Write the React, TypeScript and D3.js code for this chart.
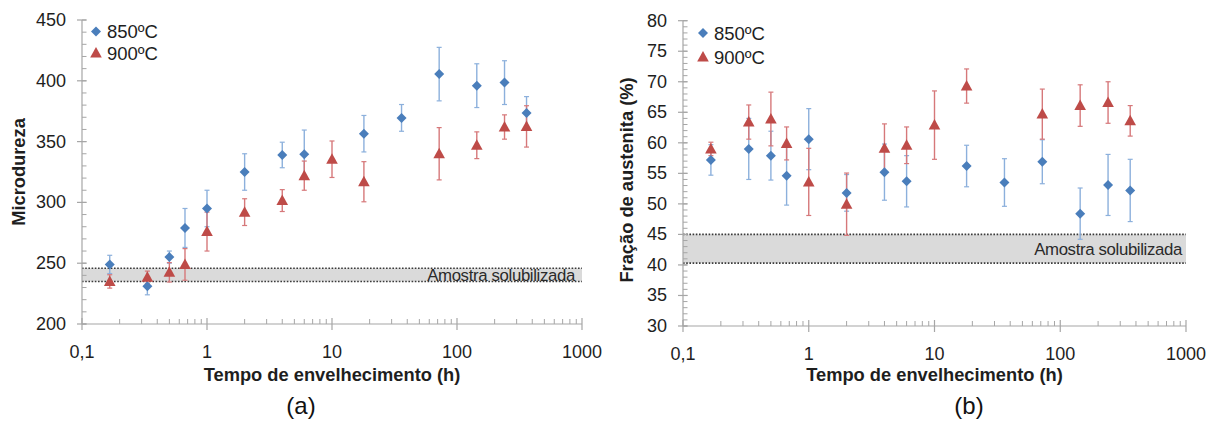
import React from "react";
import * as d3 from "d3";

// ---------- data ----------
const xTickLabels = ["0,1", "1", "10", "100", "1000"];
const xTickValues = [0.1, 1, 10, 100, 1000];

// Panel (a) Microdureza
const timesA850 = [1 / 6, 1 / 3, 0.5, 2 / 3, 1, 2, 4, 6, 18, 36, 72, 144, 240, 360];
const hard850 = [249, 231, 255, 279, 295, 325, 339, 339.5, 356.5, 369.5, 405.5, 396, 398.5, 373.5];
const hard850Err = [7.5, 7, 5, 16, 15, 15, 10.5, 20, 15, 11, 22, 18, 18, 13.5];
const timesA900 = [1 / 6, 1 / 3, 0.5, 2 / 3, 1, 2, 4, 6, 10, 18, 72, 144, 240, 360];
const hard900 = [235, 238.5, 242.5, 249, 276, 292, 301.5, 322, 335.5, 317, 340, 347, 362, 362.5];
const hard900Err = [5.5, 5, 8, 13, 16, 11, 9, 12, 15, 16.5, 21.5, 11, 10, 17];
const bandA = [235, 245.8];
const yTicksA = [200, 250, 300, 350, 400, 450];

// Panel (b) Fração de austenita
const timesB850 = [1 / 6, 1 / 3, 0.5, 2 / 3, 1, 2, 4, 6, 18, 36, 72, 144, 240, 360];
const aust850 = [57.2, 59, 57.9, 54.6, 60.6, 51.8, 55.2, 53.7, 56.2, 53.5, 56.9, 48.4, 53.1, 52.2];
const aust850Err = [2.5, 5, 4, 4.8, 5, 3, 4.6, 4.2, 3.4, 3.9, 3.6, 4.2, 5, 5.1];
const timesB900 = [1 / 6, 1 / 3, 0.5, 2 / 3, 1, 2, 4, 6, 10, 18, 72, 144, 240, 360];
const aust900 = [59, 63.4, 63.9, 59.9, 53.6, 49.95, 59.1, 59.6, 62.9, 69.3, 64.7, 66.1, 66.6, 63.6];
const aust900Err = [1.1, 2.8, 4.4, 2.7, 5.5, 5.1, 4, 3, 5.6, 2.8, 4.1, 3.4, 3.4, 2.5];
const bandB = [40.3, 45.0];
const yTicksB = [30, 35, 40, 45, 50, 55, 60, 65, 70, 75, 80];

const seriesNames = ["850ºC", "900ºC"];
const bandLabel = "Amostra solubilizada";
const xTitle = "Tempo de envelhecimento (h)";

// ---------- styles ----------
const FONT = "'Liberation Sans', Arial, sans-serif";
const BLUE = "#4a7ebb";
const RED = "#be4b48";
const BLUE_ERR = "#8cb0dc";
const RED_ERR = "#d6787a";
const AXIS = "#a6a6a6";
const TEXT = "#1e1e1e";

type Series = { t: number[]; v: number[]; e: number[] };

function Diamond({ cx, cy }: { cx: number; cy: number }) {
  const s = 5;
  return <path d={`M${cx},${cy - s} L${cx + s},${cy} L${cx},${cy + s} L${cx - s},${cy} Z`} fill={BLUE} />;
}
function Triangle({ cx, cy }: { cx: number; cy: number }) {
  const w = 5.8;
  return <path d={`M${cx},${cy - 6} L${cx + w},${cy + 4.5} L${cx - w},${cy + 4.5} Z`} fill={RED} />;
}

function Panel(props: {
  x0: number; x1: number; yTop: number; yBot: number;
  yDomain: [number, number]; yTicks: number[]; yMinorStep: number;
  s850: Series; s900: Series; band: number[];
  yTitle: string; yTitleX: number; yTitleY: number;
  legendX: number; legendY: [number, number];
  bandTextX: number; panelLabel: string; panelLabelX: number;
}) {
  const x = d3.scaleLog().domain([0.1, 1000]).range([props.x0, props.x1]);
  const y = d3.scaleLinear().domain(props.yDomain).range([props.yBot, props.yTop]);
  const minorX: number[] = [];
  for (let d = 0.1; d < 1000; d *= 10) for (let k = 2; k <= 9; k++) minorX.push(+(d * k).toPrecision(3));
  const minorY = d3.range(props.yDomain[0], props.yDomain[1] + 0.001, props.yMinorStep);
  const bandTop = y(props.band[1]);
  const bandBot = y(props.band[0]);
  const errBars = (s: Series, col: string) =>
    s.t.map((t, i) => {
      const cx = x(t);
      const y1 = y(s.v[i] + s.e[i]);
      const y2 = y(s.v[i] - s.e[i]);
      return (
        <g key={i} stroke={col} strokeWidth={1.4}>
          <line x1={cx} x2={cx} y1={y1} y2={y2} />
          <line x1={cx - 2.5} x2={cx + 2.5} y1={y1} y2={y1} strokeWidth={1.2} />
          <line x1={cx - 2.5} x2={cx + 2.5} y1={y2} y2={y2} strokeWidth={1.2} />
        </g>
      );
    });
  return (
    <g fontFamily={FONT}>
      {/* band */}
      <rect x={props.x0} y={bandTop} width={props.x1 - props.x0} height={bandBot - bandTop} fill="#dadada" />
      <line x1={props.x0} x2={props.x1} y1={bandTop} y2={bandTop} stroke="#3a3a3a" strokeWidth={1.6} strokeDasharray="1.6,1.6" />
      <line x1={props.x0} x2={props.x1} y1={bandBot} y2={bandBot} stroke="#3a3a3a" strokeWidth={1.6} strokeDasharray="1.6,1.6" />
      <text x={props.bandTextX} y={(bandTop + bandBot) / 2 + 0.5} textAnchor="end" dominantBaseline="central"
        fontSize={16.8} fill="#2a2a2a" letterSpacing={-0.35}>{bandLabel}</text>
      {/* axes */}
      <line x1={props.x0} x2={props.x0} y1={props.yTop} y2={props.yBot} stroke={AXIS} strokeWidth={1.2} />
      <line x1={props.x0} x2={props.x1} y1={props.yBot} y2={props.yBot} stroke={AXIS} strokeWidth={1.2} />
      {minorY.map((v, i) => (
        <line key={"my" + i} x1={props.x0} x2={props.x0 + 4.5} y1={y(v)} y2={y(v)} stroke={AXIS} strokeWidth={1} />
      ))}
      {props.yTicks.map((v) => (
        <g key={"y" + v}>
          <line x1={props.x0 - 5} x2={props.x0 + 4.5} y1={y(v)} y2={y(v)} stroke={AXIS} strokeWidth={1.2} />
          <text x={props.x0 - 16} y={y(v)} textAnchor="end" dominantBaseline="central" fontSize={18} fill={TEXT}>{v}</text>
        </g>
      ))}
      {minorX.map((v, i) => (
        <line key={"mx" + i} x1={x(v)} x2={x(v)} y1={props.yBot} y2={props.yBot - 5} stroke={AXIS} strokeWidth={1} />
      ))}
      {xTickValues.map((v, i) => (
        <g key={"x" + v}>
          <line x1={x(v)} x2={x(v)} y1={props.yBot - 6} y2={props.yBot + 6} stroke={AXIS} strokeWidth={1.2} />
          <text x={x(v)} y={props.yBot + 28} textAnchor="middle" dominantBaseline="central" fontSize={18} fill={TEXT}>{xTickLabels[i]}</text>
        </g>
      ))}
      {/* titles */}
      <text x={(props.x0 + props.x1) / 2} y={381} textAnchor="middle" fontSize={18.3} fontWeight="bold" fill={TEXT}>{xTitle}</text>
      <text transform={`translate(${props.yTitleX},${props.yTitleY}) rotate(-90)`} textAnchor="middle" fontSize={18.3} fontWeight="bold" fill={TEXT}>{props.yTitle}</text>
      <text x={props.panelLabelX} y={414} textAnchor="middle" fontSize={24} fill="#111">{props.panelLabel}</text>
      {/* error bars */}
      {errBars(props.s850, BLUE_ERR)}
      {errBars(props.s900, RED_ERR)}
      {/* markers */}
      {props.s850.t.map((t, i) => <Diamond key={"d" + i} cx={x(t)} cy={y(props.s850.v[i])} />)}
      {props.s900.t.map((t, i) => <Triangle key={"t" + i} cx={x(t)} cy={y(props.s900.v[i])} />)}
      {/* legend */}
      <Diamond cx={props.legendX} cy={props.legendY[0]} />
      <text x={props.legendX + 11} y={props.legendY[0]} dominantBaseline="central" fontSize={18.5} fill={TEXT}>{seriesNames[0]}</text>
      <Triangle cx={props.legendX} cy={props.legendY[1]} />
      <text x={props.legendX + 11} y={props.legendY[1]} dominantBaseline="central" fontSize={18.5} fill={TEXT}>{seriesNames[1]}</text>
    </g>
  );
}

export default function App() {
  return (
    <svg width={1212} height={423} style={{ position: "absolute", left: 0, top: 0, background: "#fff" }}>
      <rect width={1212} height={423} fill="#fff" />
      <Panel
        x0={82} x1={582} yTop={20} yBot={324}
        yDomain={[200, 450]} yTicks={yTicksA} yMinorStep={10}
        s850={{ t: timesA850, v: hard850, e: hard850Err }}
        s900={{ t: timesA900, v: hard900, e: hard900Err }}
        band={bandA}
        yTitle="Microdureza" yTitleX={25} yTitleY={172}
        legendX={96} legendY={[31.5, 53]}
        bandTextX={575} panelLabel="(a)" panelLabelX={301}
      />
      <Panel
        x0={683} x1={1186} yTop={20.7} yBot={326}
        yDomain={[30, 80]} yTicks={yTicksB} yMinorStep={1}
        s850={{ t: timesB850, v: aust850, e: aust850Err }}
        s900={{ t: timesB900, v: aust900, e: aust900Err }}
        band={bandB}
        yTitle="Fração de austenita (%)" yTitleX={633} yTitleY={180}
        legendX={703} legendY={[33, 57]}
        bandTextX={1182} panelLabel="(b)" panelLabelX={969}
      />
    </svg>
  );
}
